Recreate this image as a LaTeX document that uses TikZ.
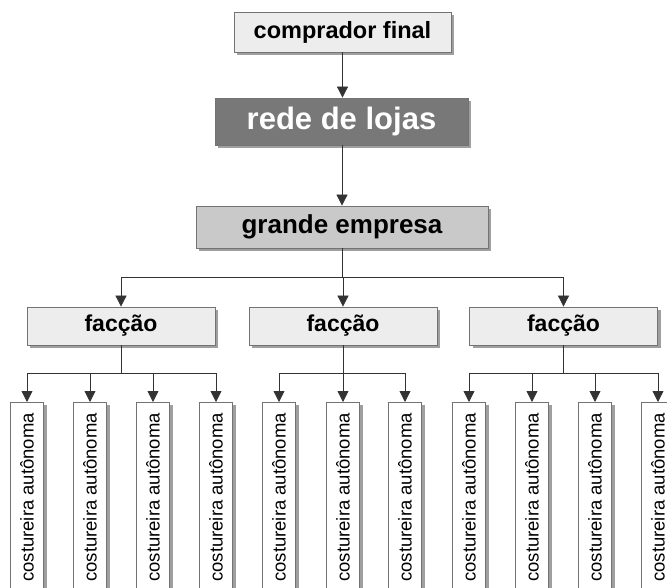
\documentclass[tikz,border=0pt]{standalone}
\usepackage{fontspec}
\setmainfont{Liberation Sans}
\usetikzlibrary{shadows}
\usetikzlibrary{arrows.meta}
\definecolor{boxline}{gray}{0.45}
\definecolor{lightbox}{gray}{0.93}
\definecolor{midbox}{gray}{0.79}
\definecolor{darkbox}{gray}{0.47}
\tikzstyle{box}=[draw=boxline, line width=0.8pt, inner sep=0pt,
  drop shadow={shadow xshift=3pt, shadow yshift=-3pt, fill=gray!75, opacity=1}]
\tikzstyle{topbox}=[box, fill=lightbox, minimum width=217pt, minimum height=40pt, font=\fontsize{23.5}{26}\selectfont\bfseries]
\tikzstyle{shopbox}=[box, fill=darkbox, text=white, minimum width=253pt, minimum height=47pt, font=\fontsize{31}{34}\selectfont\bfseries]
\tikzstyle{firmbox}=[box, fill=midbox, minimum width=292pt, minimum height=42pt, font=\fontsize{26}{29}\selectfont\bfseries]
\tikzstyle{facbox}=[box, fill=lightbox, minimum width=188pt, minimum height=38pt, font=\fontsize{23}{26}\selectfont\bfseries]
\tikzstyle{sewbox}=[box, fill=white, rotate=90, anchor=east, minimum width=190pt, minimum height=33pt, font=\fontsize{18.5}{20}\selectfont]
\tikzstyle{link}=[draw=black!80, line width=0.8pt]
\tikzstyle{arrow}=[link, -{Triangle[width=11pt,length=11pt]}]

\begin{document}
\begin{tikzpicture}[x=1pt, y=-1pt]
        \useasboundingbox (0,0) rectangle (667,588);
        \clip (0,0) rectangle (667,588);
        \node[topbox]   (buyer)  at (342.5, 32)  {comprador final};
        \node[shopbox]  (stores) at (341.5, 121.5) {rede de lojas};
        \node[firmbox]  (firm)   at (342, 227)   {grande empresa};
        \node[facbox]   (facA)   at (121, 326)   {facção};
        \node[facbox]   (facB)   at (343, 326)   {facção};
        \node[facbox]   (facC)   at (563.5, 326) {facção};
        \coordinate     (busF)   at (342, 277);
        \coordinate     (busA)   at (121, 373);
        \coordinate     (busB)   at (343, 373);
        \coordinate     (busC)   at (563.5, 373);
        % costureiras
        \foreach \x [count=\i] in {27, 90, 153, 216}
            \node[sewbox] (sewA\i) at (\x, 402) {costureira autônoma};
        \foreach \x [count=\i] in {279, 343, 405}
            \node[sewbox] (sewB\i) at (\x, 402) {costureira autônoma};
        \foreach \x [count=\i] in {469, 532, 595, 658}
            \node[sewbox] (sewC\i) at (\x, 402) {costureira autônoma};
        \draw[arrow] (buyer) -- (buyer |- stores.north);
        \draw[arrow] (stores.south -| firm) -- (firm);
        \draw[link] (firm) -- (busF);
        \foreach \f in {facA, facB, facC}
            \draw[arrow] (busF) -| (\f);
        \draw[link] (facA) -- (busA);
        \draw[link] (facB) -- (busB);
        \draw[link] (facC) -- (busC);
        \foreach \i in {1,...,4}
            \draw[arrow] (busA) -| (sewA\i);
        \foreach \i in {1,...,3}
            \draw[arrow] (busB) -| (sewB\i);
        \foreach \i in {1,...,4}
            \draw[arrow] (busC) -| (sewC\i);
    \end{tikzpicture}
\end{document}
